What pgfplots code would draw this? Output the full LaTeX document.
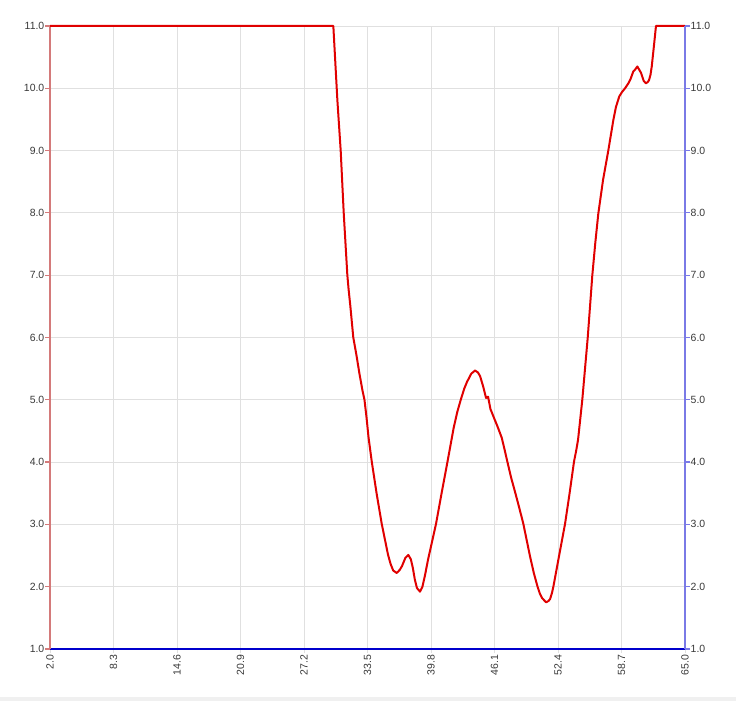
\documentclass[border=0pt]{standalone}
\usepackage{fontspec}
\setmainfont{Liberation Sans}
\usepackage{pgfplots}
\pgfplotsset{compat=1.18}
\definecolor{gridc}{HTML}{E0E0E0}
\definecolor{bandc}{HTML}{F0F0F0}
\definecolor{leftc}{HTML}{D47A7A}
\definecolor{rightc}{HTML}{7A7AE6}
\definecolor{bottomc}{HTML}{0000CC}
\definecolor{plotc}{HTML}{E00000}
\definecolor{labelc}{HTML}{383838}
\begin{document}
\begin{tikzpicture}[x=1bp,y=1bp]
\useasboundingbox (0,0) rectangle (736,701);
\fill[bandc] (0,0) rectangle (736,3.5);
\pgfplotsset{
  common/.style={
    at={(50bp,52bp)}, anchor=south west, scale only axis,
    width=635bp, height=623bp,
    xmin=2, xmax=65, ymin=1, ymax=11,
    tick align=outside, major tick length=4.5bp,
    tick label style={font=\fontsize{10.5}{12}\selectfont, text=labelc},
    ytick={1,2,...,11},
    yticklabels={1.0,2.0,3.0,4.0,5.0,6.0,7.0,8.0,9.0,10.0,11.0},
    yticklabel style={inner sep=1bp},
    clip=false,
  }
}
\begin{axis}[common,
  axis x line*=bottom, axis y line*=left,
  xtick={2,8.3,14.6,20.9,27.2,33.5,39.8,46.1,52.4,58.7,65},
  xticklabels={2.0,8.3,14.6,20.9,27.2,33.5,39.8,46.1,52.4,58.7,65.0},
  xticklabel style={rotate=90, anchor=east, inner sep=1bp},
  grid=major, grid style={gridc, line width=0.9bp},
  x axis line style={bottomc, line width=2.6bp, -},
  y axis line style={leftc, line width=2bp, -},
  xtick style={gridc, line width=0.9bp},
  ytick style={leftc, line width=1.2bp},
]
\addplot[plotc, line width=2bp, line join=round] coordinates {
(2.0,11.0) (30.11,11.0) (30.51,9.81) (30.84,9.0) (31.14,8.0) (31.50,7.0)
(31.62,6.78) (31.80,6.5) (32.09,6.0) (32.40,5.72) (32.70,5.42) (33.00,5.15) (33.20,5.0) (33.40,4.72) (33.60,4.40) (33.92,4.01) (34.40,3.5) (34.91,3.01)
(35.25,2.74) (35.54,2.51) (35.80,2.36) (36.05,2.26) (36.40,2.22) (36.70,2.27) (36.92,2.33) (37.25,2.46) (37.55,2.51) (37.80,2.44)
(38.00,2.30) (38.20,2.11) (38.40,1.98) (38.71,1.92) (38.95,2.00) (39.20,2.18) (39.50,2.43) (40.30,3.01)
(40.85,3.5) (41.44,4.01) (42.05,4.55) (42.40,4.80) (42.75,5.0) (43.10,5.18) (43.38,5.29) (43.80,5.42) (44.17,5.47)
(44.45,5.44) (44.67,5.38) (45.00,5.20) (45.26,5.03) (45.46,5.05) (45.70,4.85) (46.05,4.71)
(46.45,4.55) (46.82,4.39) (47.10,4.20) (47.37,4.01) (47.75,3.75) (48.14,3.52) (48.55,3.27) (48.96,3.01) (49.62,2.49)
(50.00,2.22) (50.37,2.0) (50.60,1.89) (50.81,1.82) (51.21,1.75) (51.45,1.77) (51.61,1.80) (51.80,1.90) (51.94,2.0) (52.50,2.49) (53.10,3.01)
(53.55,3.5) (53.99,4.01) (54.20,4.18) (54.39,4.36) (54.60,4.68) (54.81,5.0) (55.35,6.0) (55.80,6.99) (56.10,7.52) (56.40,7.99)
(56.87,8.53) (57.39,9.0) (57.89,9.49) (58.15,9.70) (58.48,9.87) (58.75,9.94) (59.05,10.0) (59.38,10.08) (59.60,10.15)
(59.87,10.27) (60.05,10.30) (60.27,10.35) (60.45,10.30) (60.63,10.25) (60.90,10.12) (61.12,10.08)
(61.30,10.10) (61.43,10.13) (61.58,10.22) (61.70,10.35) (61.93,10.70) (62.12,11.0) (65.0,11.0)
};
\end{axis}
\begin{axis}[common,
  axis x line=none, axis y line*=right,
  y axis line style={rightc, line width=2bp, -},
  ytick style={rightc, line width=1.2bp},
]
\end{axis}
\end{tikzpicture}
\end{document}
